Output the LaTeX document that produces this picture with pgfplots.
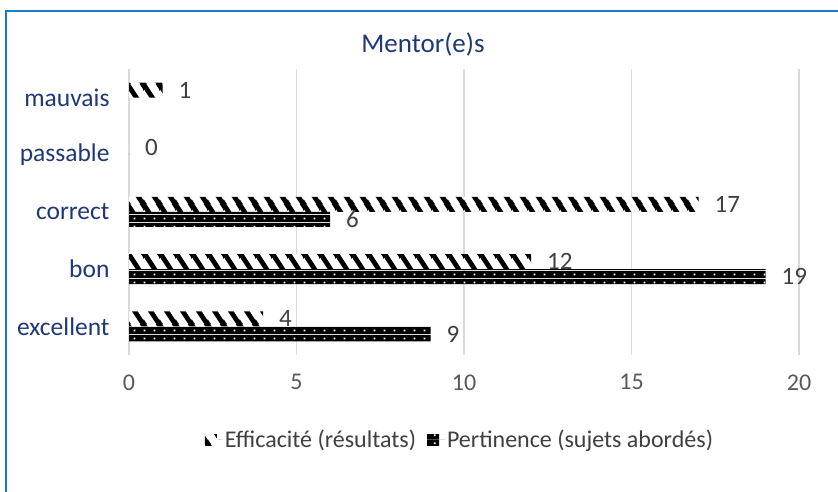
\documentclass[border=0pt]{standalone}
\usepackage{fontspec}
\setmainfont{Carlito}
\usepackage{pgfplots}
\pgfplotsset{compat=1.18}
\usetikzlibrary{patterns}

\definecolor{frameblue}{RGB}{30,122,200}
\definecolor{navy}{RGB}{31,56,120}
\definecolor{labelgray}{RGB}{64,64,64}
\definecolor{tickgray}{RGB}{89,89,89}
\definecolor{gridgray}{RGB}{217,217,217}

% wide downward diagonal: black stripes on white
\pgfdeclarepatterninherentlycolored{widediag}{\pgfpointorigin}{\pgfpoint{16bp}{24bp}}{\pgfpoint{16bp}{24bp}}{%
  \pgfsetfillcolor{white}%
  \pgfpathrectangle{\pgfpointorigin}{\pgfpoint{16bp}{24bp}}%
  \pgfusepath{fill}%
  \pgfsetstrokecolor{black}%
  \pgfsetlinewidth{5bp}%
  \pgfsetbuttcap
  \pgfpathmoveto{\pgfpoint{-8bp}{36bp}}\pgfpathlineto{\pgfpoint{24bp}{-12bp}}%
  \pgfpathmoveto{\pgfpoint{-24bp}{36bp}}\pgfpathlineto{\pgfpoint{8bp}{-12bp}}%
  \pgfpathmoveto{\pgfpoint{8bp}{36bp}}\pgfpathlineto{\pgfpoint{40bp}{-12bp}}%
  \pgfusepath{stroke}%
}
% black ground with small white dots
\pgfdeclarepatterninherentlycolored{blackdots}{\pgfpointorigin}{\pgfpoint{10bp}{7.5bp}}{\pgfpoint{10bp}{7.5bp}}{%
  \pgfsetfillcolor{black}%
  \pgfpathrectangle{\pgfpointorigin}{\pgfpoint{10bp}{7.5bp}}%
  \pgfusepath{fill}%
  \pgfsetfillcolor{white}%
  \pgfpathrectangle{\pgfpoint{4bp}{2.8bp}}{\pgfpoint{1.8bp}{1.8bp}}%
  \pgfusepath{fill}%
}

\newcommand{\chartfont}[1]{\fontsize{#1}{#1}\selectfont}

\begin{document}
\begin{tikzpicture}
\clip (0,0) rectangle (838bp,492bp);
\fill[white] (0,0) rectangle (838bp,492bp);
\draw[frameblue, line width=2.2bp] (5.6bp,-20bp) -- (5.6bp,481bp) -- (860bp,481bp);
\node[navy, font=\chartfont{27bp}] at (423bp,447bp) {Mentor(e)s};
\begin{axis}[
  at={(129bp,137bp)}, anchor=south west,
  width=670bp, height=286bp, scale only axis,
  xbar,
  bar width=15bp,
  xmin=0, xmax=20, ymin=-0.5, ymax=4.5,
  xtick={0,5,10,15,20},
  ytick={0,1,2,3,4},
  yticklabels={excellent,bon,correct,passable,mauvais},
  xmajorgrids,
  grid style={gridgray, line width=1.3bp},
  axis line style={draw=none},
  major tick length=0pt,
  tick style={draw=none},
  /pgf/number format/assume math mode=true,
  xticklabel style={text=tickgray, font=\chartfont{24bp}, yshift=-16bp},
  yticklabel style={text=navy, font=\chartfont{25.5bp}, xshift=-16bp},
  nodes near coords,
  nodes near coords style={text=labelgray, font=\chartfont{25bp}, anchor=west, inner sep=0pt, xshift=16bp},
  legend style={at={(0.494,-0.297)}, anchor=center, draw=none, fill=none,
    legend columns=2, font=\chartfont{24bp}, text=labelgray,
    /tikz/every even column/.append style={column sep=9bp}},
  legend image code/.code={%
    \fill[#1] (0bp,-5.5bp) rectangle (12bp,5.5bp);
    \path (0bp,0bp) -- (18bp,0bp);},
]
% Efficacité (résultats)
\addplot[draw=none, pattern=widediag, bar shift=7.5bp] coordinates {
  (4,0) (12,1) (17,2) (0,3) (1,4)
};
% Pertinence (sujets abordés)
\addplot[draw=none, pattern=blackdots, bar shift=-7.5bp] coordinates {
  (9,0) (19,1) (6,2)
};
\legend{Efficacité (résultats), Pertinence (sujets abordés)}
\end{axis}
\end{tikzpicture}
\end{document}
